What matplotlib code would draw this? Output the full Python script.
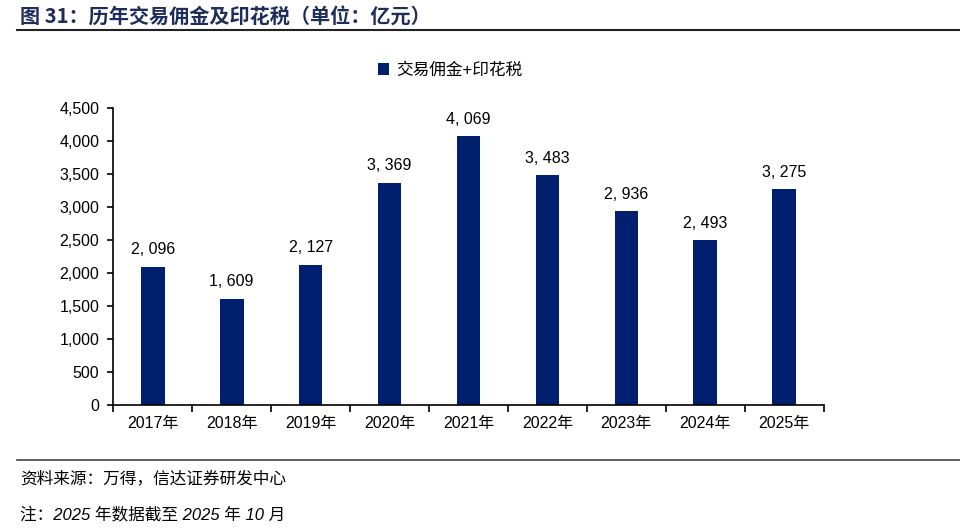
import matplotlib
matplotlib.use("Agg")
import matplotlib.pyplot as plt
from matplotlib.lines import Line2D

plt.rcParams["font.family"] = ["Liberation Sans", "Noto Sans CJK SC", "DejaVu Sans"]

years = ["2017年", "2018年", "2019年", "2020年", "2021年", "2022年", "2023年", "2024年", "2025年"]
values = [2096, 1609, 2127, 3369, 4069, 3483, 2936, 2493, 3275]
series_name = "交易佣金+印花税"
bar_color = "#00206F"

fig = plt.figure(figsize=(9.6, 5.32), dpi=100)
ax = fig.add_axes([0.118, 0.239, 0.740, 0.558])

x = range(len(years))
ax.bar(x, values, width=0.3, color=bar_color, label=series_name, zorder=2)

for i, v in enumerate(values):
    ax.text(i, v + 140, f"{v:,}".replace(",", ", "), ha="center", va="bottom", fontsize=11.5)

ax.set_ylim(0, 4500)
ax.set_xlim(-0.5, len(years) - 0.5)
ax.set_yticks(range(0, 4501, 500))
ax.set_yticklabels([f"{t:,}" for t in range(0, 4501, 500)], fontsize=11.5)
ax.set_xticks(list(x))
ax.set_xticklabels(years, fontsize=11.5)
ax.set_xticks([i + 0.5 for i in range(-1, len(years))], minor=True)
ax.tick_params(axis="x", which="major", length=0, pad=8)
ax.tick_params(axis="x", which="minor", length=5, width=1.2, direction="out")
ax.tick_params(axis="y", length=4, width=1.2, direction="out", pad=6)

for s in ["top", "right"]:
    ax.spines[s].set_visible(False)
ax.spines["left"].set_linewidth(1.2)
ax.spines["bottom"].set_linewidth(1.2)

leg = ax.legend(loc="upper center", bbox_to_anchor=(0.474, 1.205), frameon=False,
                fontsize=12, handlelength=0.7, handleheight=0.7, handletextpad=0.4)

fig.text(0.021, 0.967, "图 31：历年交易佣金及印花税（单位：亿元）", fontsize=14.5, fontweight="bold",
         color="#1F2D5C", va="center", family=["Noto Sans CJK SC", "DejaVu Sans"])
fig.add_artist(Line2D([0.018, 1.0], [0.944, 0.944], color="#222222", linewidth=1.5))
fig.add_artist(Line2D([0.018, 1.0], [0.135, 0.135], color="#444444", linewidth=1.2))
fig.text(0.021, 0.101, "资料来源：万得，信达证券研发中心", fontsize=12, style="italic",
         va="center", family=["Liberation Sans", "Noto Sans CJK SC", "DejaVu Sans"])
fig.text(0.021, 0.034, "注：2025 年数据截至 2025 年 10 月", fontsize=12, style="italic",
         va="center", family=["Liberation Sans", "Noto Sans CJK SC", "DejaVu Sans"])

fig.savefig("out.png", dpi=100)
